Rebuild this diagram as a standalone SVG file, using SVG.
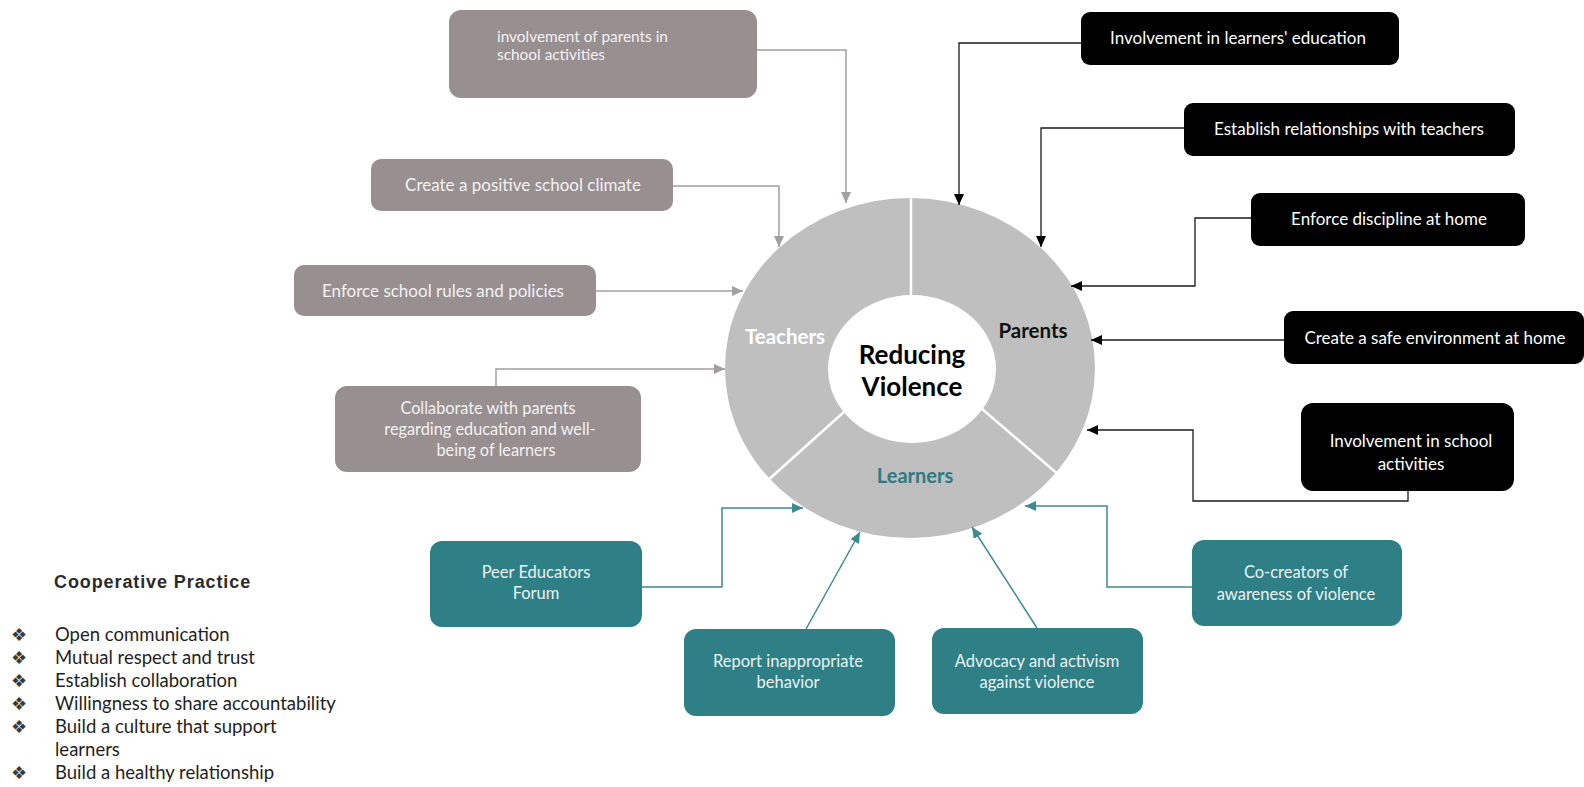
<svg xmlns="http://www.w3.org/2000/svg" width="1584" height="787" viewBox="0 0 1584 787">
  <style>
    .t { font-family: Lato, "Open Sans", sans-serif; }
    .grey-box { fill: #988F91; }
    .black-box { fill: #000000; }
    .teal-box { fill: #2F7F86; }
    .grey-txt { fill: #F4F2F2; font-size: 17px; }
    .grey-small { font-size: 15.4px; }
    .grey-mid { font-size: 16.3px; }
    .white-txt { fill: #FFFFFF; font-size: 17px; }
    .teal-txt { fill: #EAF3F3; font-size: 16.5px; }
    .c-grey { fill: none; stroke: #A59E9F; stroke-width: 1.5; marker-end: url(#ah-grey); }
    .c-black { fill: none; stroke: #1A1A1A; stroke-width: 1.3; marker-end: url(#ah-black); }
    .c-teal { fill: none; stroke: #3D8B91; stroke-width: 1.5; marker-end: url(#ah-teal); }
    .legend { font-family: Lato, "Open Sans", sans-serif; font-size: 18.5px; fill: #1F1F1F; }
    .bullet { font-family: "DejaVu Sans", sans-serif; font-size: 18px; fill: #3A3A3A; }
  </style>
  <defs>
    <marker id="ah-grey" markerUnits="userSpaceOnUse" markerWidth="12" markerHeight="10" refX="11" refY="5" orient="auto">
      <path d="M0,0 L11,5 L0,10 Z" fill="#A59E9F"/>
    </marker>
    <marker id="ah-black" markerUnits="userSpaceOnUse" markerWidth="12" markerHeight="10" refX="11" refY="5" orient="auto">
      <path d="M0,0 L11,5 L0,10 Z" fill="#000000"/>
    </marker>
    <marker id="ah-teal" markerUnits="userSpaceOnUse" markerWidth="12" markerHeight="10" refX="11" refY="5" orient="auto">
      <path d="M0,0 L11,5 L0,10 Z" fill="#3D8B91"/>
    </marker>
  </defs>

  <rect width="1584" height="787" fill="#FFFFFF"/>

  <!-- central ring -->
  <g id="ring">
    <ellipse cx="910" cy="368" rx="185" ry="170" fill="#BFBFBF"/>
    <ellipse cx="912" cy="369" rx="84" ry="74" fill="#FFFFFF"/>
    <g stroke="#FFFFFF" stroke-width="2.5">
      <line x1="911" y1="190" x2="911" y2="296"/>
      <line x1="845" y1="411" x2="766" y2="482"/>
      <line x1="981" y1="408" x2="1060" y2="476"/>
    </g>
    <text class="t" x="785" y="344" text-anchor="middle" font-size="20.5" font-weight="bold" fill="#FFFFFF">Teachers</text>
    <text class="t" x="1033" y="338" text-anchor="middle" font-size="20.5" font-weight="bold" fill="#111111">Parents</text>
    <text class="t" x="915" y="483" text-anchor="middle" font-size="20" font-weight="bold" fill="#2E7A81">Learners</text>
    <text class="t" x="912" y="364" text-anchor="middle" font-size="26" font-weight="bold" fill="#000000">Reducing</text>
    <text class="t" x="912" y="396" text-anchor="middle" font-size="26" font-weight="bold" fill="#000000">Violence</text>
  </g>

  <!-- connectors -->
  <g id="connectors">
    <path class="c-grey" d="M757,50 H846 V203"/>
    <path class="c-grey" d="M673,186 H779 V247"/>
    <path class="c-grey" d="M596,291 H743"/>
    <path class="c-grey" d="M496,386 V369 H725"/>

    <path class="c-black" d="M1081,43 H959 V205"/>
    <path class="c-black" d="M1184,128 H1041 V247"/>
    <path class="c-black" d="M1251,218 H1195 V286 H1071"/>
    <path class="c-black" d="M1284,340 H1091"/>
    <path class="c-black" d="M1408,490 V501 H1193 V430 H1087"/>

    <path class="c-teal" d="M642,587 H722 V508 H803"/>
    <path class="c-teal" d="M806,629 L860,532"/>
    <path class="c-teal" d="M1037,628 L972,527"/>
    <path class="c-teal" d="M1192,587 H1107 V506 H1025"/>
  </g>

  <!-- teacher actions -->
  <g id="t-involve">
    <rect class="grey-box" x="449" y="10" width="308" height="88" rx="12"/>
    <text class="t grey-txt grey-small" x="497" y="42">involvement of parents in</text>
    <text class="t grey-txt grey-small" x="497" y="60">school activities</text>
  </g>
  <g id="t-climate">
    <rect class="grey-box" x="371" y="159" width="302" height="52" rx="10"/>
    <text class="t grey-txt" x="523" y="191" text-anchor="middle">Create a positive school climate</text>
  </g>
  <g id="t-rules">
    <rect class="grey-box" x="294" y="265" width="302" height="51" rx="10"/>
    <text class="t grey-txt" x="443" y="297" text-anchor="middle">Enforce school rules and policies</text>
  </g>
  <g id="t-collab">
    <rect class="grey-box" x="335" y="386" width="306" height="86" rx="12"/>
    <text class="t grey-txt grey-mid" x="488" y="414" text-anchor="middle">Collaborate with parents</text>
    <text class="t grey-txt grey-mid" x="490" y="435" text-anchor="middle">regarding education and well-</text>
    <text class="t grey-txt grey-mid" x="496" y="456" text-anchor="middle">being of learners</text>
  </g>

  <!-- parent actions -->
  <g id="p-education">
    <rect class="black-box" x="1081" y="12" width="318" height="53" rx="9"/>
    <text class="t white-txt" x="1238" y="44" text-anchor="middle">Involvement in learners' education</text>
  </g>
  <g id="p-relations">
    <rect class="black-box" x="1184" y="103" width="331" height="53" rx="9"/>
    <text class="t white-txt" x="1349" y="135" text-anchor="middle">Establish relationships with teachers</text>
  </g>
  <g id="p-discipline">
    <rect class="black-box" x="1251" y="193" width="274" height="53" rx="9"/>
    <text class="t white-txt" x="1389" y="225" text-anchor="middle">Enforce discipline at home</text>
  </g>
  <g id="p-safe">
    <rect class="black-box" x="1284" y="311" width="300" height="53" rx="9"/>
    <text class="t white-txt" x="1435" y="344" text-anchor="middle">Create a safe environment at home</text>
  </g>
  <g id="p-school">
    <rect class="black-box" x="1301" y="403" width="213" height="88" rx="12"/>
    <text class="t white-txt" x="1411" y="447" text-anchor="middle">Involvement in school</text>
    <text class="t white-txt" x="1411" y="470" text-anchor="middle">activities</text>
  </g>

  <!-- learner actions -->
  <g id="l-peer">
    <rect class="teal-box" x="430" y="541" width="212" height="86" rx="12"/>
    <text class="t teal-txt" x="536" y="578" text-anchor="middle">Peer Educators</text>
    <text class="t teal-txt" x="536" y="599" text-anchor="middle">Forum</text>
  </g>
  <g id="l-report">
    <rect class="teal-box" x="684" y="629" width="211" height="87" rx="12"/>
    <text class="t teal-txt" x="788" y="667" text-anchor="middle">Report inappropriate</text>
    <text class="t teal-txt" x="788" y="688" text-anchor="middle">behavior</text>
  </g>
  <g id="l-advocacy">
    <rect class="teal-box" x="932" y="628" width="211" height="86" rx="12"/>
    <text class="t teal-txt" x="1037" y="667" text-anchor="middle">Advocacy and activism</text>
    <text class="t teal-txt" x="1037" y="688" text-anchor="middle">against violence</text>
  </g>
  <g id="l-cocreate">
    <rect class="teal-box" x="1192" y="540" width="210" height="86" rx="12"/>
    <text class="t teal-txt" x="1296" y="578" text-anchor="middle">Co-creators of</text>
    <text class="t teal-txt" x="1296" y="600" text-anchor="middle">awareness of violence</text>
  </g>

  <!-- cooperative practice list -->
  <g id="legend">
    <text x="54" y="588" font-family="'Liberation Sans', Arial, sans-serif" font-size="18" font-weight="bold" letter-spacing="0.9" fill="#2B2B2B">Cooperative Practice</text>
    <text class="bullet" x="11" y="641">❖</text>
    <text class="bullet" x="11" y="664">❖</text>
    <text class="bullet" x="11" y="687">❖</text>
    <text class="bullet" x="11" y="710">❖</text>
    <text class="bullet" x="11" y="733">❖</text>
    <text class="bullet" x="11" y="779">❖</text>
    <text class="legend" x="55" y="641">Open communication</text>
    <text class="legend" x="55" y="664">Mutual respect and trust</text>
    <text class="legend" x="55" y="687">Establish collaboration</text>
    <text class="legend" x="55" y="710">Willingness to share accountability</text>
    <text class="legend" x="55" y="733">Build a culture that support</text>
    <text class="legend" x="55" y="756">learners</text>
    <text class="legend" x="55" y="779">Build a healthy relationship</text>
  </g>
</svg>
